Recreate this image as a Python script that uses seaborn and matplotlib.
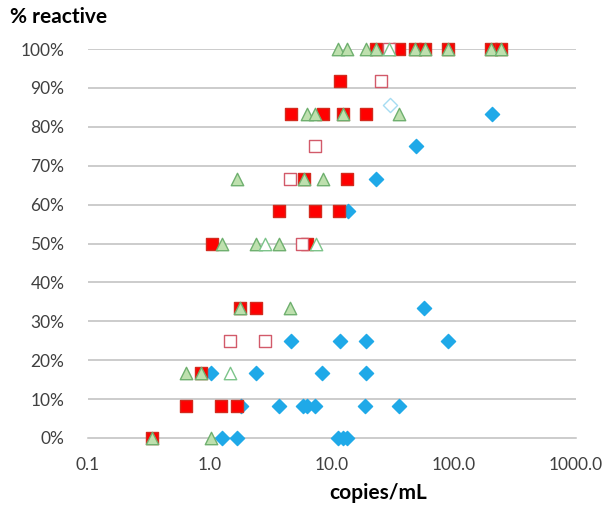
import pandas as pd
import matplotlib
matplotlib.use('Agg')
import matplotlib.pyplot as plt
import seaborn as sns
from matplotlib.ticker import FixedLocator, NullLocator, FuncFormatter

sns.set_style('white')
plt.rcParams['font.family'] = ['Lato', 'DejaVu Sans']

# red filled squares
red_x = [0.335, 0.63, 1.23, 1.66, 0.84, 1.76, 2.38, 1.03, 6.2, 3.7, 7.2, 11.4, 5.9, 13.2,
         4.6, 8.5, 12.2, 19.0, 11.6, 23.0, 35.6, 47.9, 57.8, 89.8, 200.0, 243.0]
red_y = [0.0, 0.083, 0.083, 0.083, 0.167, 0.333, 0.333, 0.5, 0.5, 0.583, 0.583, 0.583, 0.667, 0.667,
         0.833, 0.833, 0.833, 0.833, 0.917, 1.0, 1.0, 1.0, 1.0, 1.0, 1.0, 1.0]

# red open squares
red_open_x = [1.46, 2.82, 5.7, 4.5, 7.26, 25.2, 29.5]
red_open_y = [0.25, 0.25, 0.5, 0.667, 0.75, 0.917, 1.0]

# green filled triangles
green_x = [0.335, 1.02, 0.63, 0.84, 1.76, 4.5, 1.25, 2.37, 3.7, 1.67, 5.9, 8.4,
           6.2, 7.3, 12.2, 35.4, 11.3, 13.2, 18.9, 23.0, 47.9, 57.8, 89.8, 200.0, 243.0]
green_y = [0.0, 0.0, 0.167, 0.167, 0.333, 0.333, 0.5, 0.5, 0.5, 0.667, 0.667, 0.667,
           0.833, 0.833, 0.833, 0.833, 1.0, 1.0, 1.0, 1.0, 1.0, 1.0, 1.0, 1.0, 1.0]

# green open triangles
green_open_x = [1.46, 2.82, 7.35, 29.5]
green_open_y = [0.167, 0.5, 0.5, 1.0]

# blue filled diamonds
blue_x = [1.25, 1.67, 11.3, 12.2, 13.3, 1.8, 3.7, 5.75, 6.2, 7.3, 18.8, 35.6,
          1.02, 2.38, 8.3, 19.0, 4.6, 11.6, 19.0, 90.0, 57.0, 13.6, 22.8, 49.0, 203.0]
blue_y = [0.0, 0.0, 0.0, 0.0, 0.0, 0.083, 0.083, 0.083, 0.083, 0.083, 0.083, 0.083,
          0.167, 0.167, 0.167, 0.167, 0.25, 0.25, 0.25, 0.25, 0.333, 0.583, 0.667, 0.75, 0.833]

# blue open diamonds
blue_open_x = [30.0]
blue_open_y = [0.857]

x_ticks = [0.1, 1, 10, 100, 1000]
x_labels = ['0.1', '1.0', '10.0', '100.0', '1000.0']
y_ticks = [0.0, 0.1, 0.2, 0.3, 0.4, 0.5, 0.6, 0.7, 0.8, 0.9, 1.0]

fig = plt.figure(figsize=(6.12, 5.25), dpi=100)
ax = fig.add_axes([88 / 612, 1 - 438 / 525, (576 - 88) / 612, (438 - 49) / 525])

grid_col = '#BFBFBF'
for yv in y_ticks[1:]:
    ax.axhline(yv, color=grid_col, lw=1.1, zorder=1)

series = [
    (blue_x, blue_y, 'D', '#1FA9E8', '#1FA9E8', 52, 3),
    (blue_open_x, blue_open_y, 'D', 'white', '#A6DCF2', 52, 3),
    (red_x, red_y, 's', '#FF0000', '#D42A1E', 80, 4),
    (red_open_x, red_open_y, 's', 'white', '#D25A6A', 80, 4),
    (green_x, green_y, '^', '#BEE0AE', '#6FB06F', 80, 5),
    (green_open_x, green_open_y, '^', 'white', '#7CC48A', 80, 5),
]
for xs, ys, mk, fc, ec, sz, z in series:
    d = pd.DataFrame({'x': xs, 'y': ys})
    sns.scatterplot(data=d, x='x', y='y', marker=mk, color=fc, edgecolor=ec,
                    linewidth=1.0, s=sz, ax=ax, zorder=z, clip_on=False, legend=False)

ax.set_xscale('log')
ax.set_xlim(0.1, 1000)
ax.set_ylim(0, 1)
ax.xaxis.set_major_locator(FixedLocator(x_ticks))
ax.xaxis.set_minor_locator(NullLocator())
ax.set_xticklabels(x_labels)
ax.yaxis.set_major_locator(FixedLocator(y_ticks))
ax.yaxis.set_major_formatter(FuncFormatter(lambda v, p: f'{v * 100:.0f}%'))

for s in ['top', 'right', 'left']:
    ax.spines[s].set_visible(False)
ax.spines['bottom'].set_color(grid_col)
ax.spines['bottom'].set_linewidth(1.1)
ax.tick_params(axis='x', direction='out', length=5, width=1.1, color=grid_col,
               labelsize=12.5, labelcolor='#404040', pad=9)
ax.tick_params(axis='y', length=0, labelsize=12.5, labelcolor='#404040', pad=17)
ax.set_xlabel('')
ax.set_ylabel('')

fig.text(10 / 612, 1 - 17 / 525, '% reactive', fontsize=15, fontweight='bold',
         ha='left', va='center', color='black')
fig.text(378 / 612, 1 - 493 / 525, 'copies/mL', fontsize=15, fontweight='bold',
         ha='center', va='center', color='black')

plt.savefig('out.png', dpi=100)
